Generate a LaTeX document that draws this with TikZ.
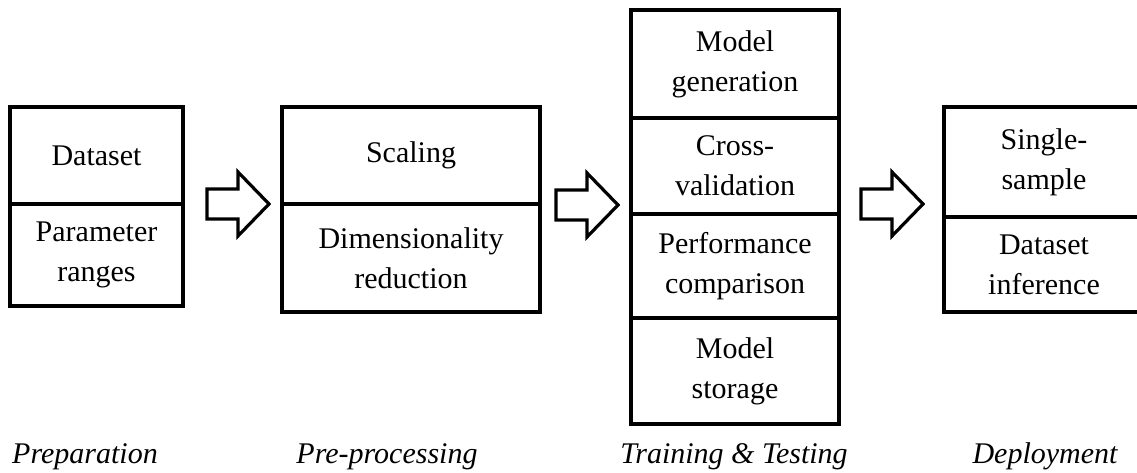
\documentclass[tikz,border=0pt]{standalone}
\usepackage{fontspec}
\setmainfont{Liberation Serif}
\usepackage{tikz}
\usetikzlibrary{positioning,calc}

% hollow block arrow, drawn from the left end of its shaft
\newcommand{\blockarrow}[1]{%
  \draw[hollow] (#1) ++(0,-15) -- ++(31,0) -- ++(0,-17) -- ++(31,32)
    -- ++(-31,32) -- ++(0,-17) -- ++(-31,0) -- cycle;}

\begin{document}
\begin{tikzpicture}[x=1pt, y=-1pt,
    cell/.style={draw, line width=3.2pt, rectangle, align=center,
      inner sep=0pt, outer sep=0pt, font=\fontsize{30}{40}\selectfont},
    stage/.style={anchor=base, font=\fontsize{30}{36}\selectfont\itshape},
    hollow/.style={draw, line width=3.2pt, line join=miter, fill=white}]
  \useasboundingbox (0,0) rectangle (1137,473);
  \clip (0,0) rectangle (1137,473);
  % Preparation
  \node[cell, anchor=north west, minimum width=173pt, minimum height=97pt]
    (prepData) at (10,107) {Dataset};
  \node[cell, below=0pt of prepData, minimum width=173pt, minimum height=102pt]
    (prepRange) {Parameter\\ranges};
  % Pre-processing
  \node[cell, anchor=north west, minimum width=258pt, minimum height=97pt]
    (preScale) at (282,107) {Scaling};
  \node[cell, below=0pt of preScale, minimum width=258pt, minimum height=108pt]
    (preDim) {Dimensionality\\reduction};
  % Training & Testing
  \node[cell, anchor=north west, minimum width=208pt, minimum height=108pt]
    (trGen) at (631,10) {Model\\generation};
  \node[cell, below=0pt of trGen, minimum width=208pt, minimum height=96pt]
    (trCross) {Cross-\\validation};
  \node[cell, below=0pt of trCross, minimum width=208pt, minimum height=104pt]
    (trPerf) {Performance\\comparison};
  \node[cell, below=0pt of trPerf, minimum width=208pt, minimum height=106pt]
    (trStore) {Model\\storage};
  % Deployment
  \node[cell, anchor=north west, minimum width=200pt, minimum height=110pt]
    (depSingle) at (944,107) {Single-\\sample};
  \node[cell, below=0pt of depSingle, minimum width=200pt, minimum height=95pt]
    (depSet) {Dataset\\inference};
  % Block arrows between the stages
  \coordinate (arrA) at ($(prepData.south east)+(24,0)$);
  \coordinate (arrB) at ($(preScale.south east)+(16,1)$);
  \coordinate (arrC) at ($(trGen.east |- preScale.south)+(22,0)$);
  \blockarrow{arrA}
  \blockarrow{arrB}
  \blockarrow{arrC}
  % Stage labels
  \node[stage] (labPrep) at (85,463) {Preparation};
  \node[stage] (labPre) at (387,463) {Pre-processing};
  \node[stage] (labTrain) at (734,463) {Training \& Testing};
  \node[stage] (labDep) at (1045,463) {Deployment};
\end{tikzpicture}
\end{document}
